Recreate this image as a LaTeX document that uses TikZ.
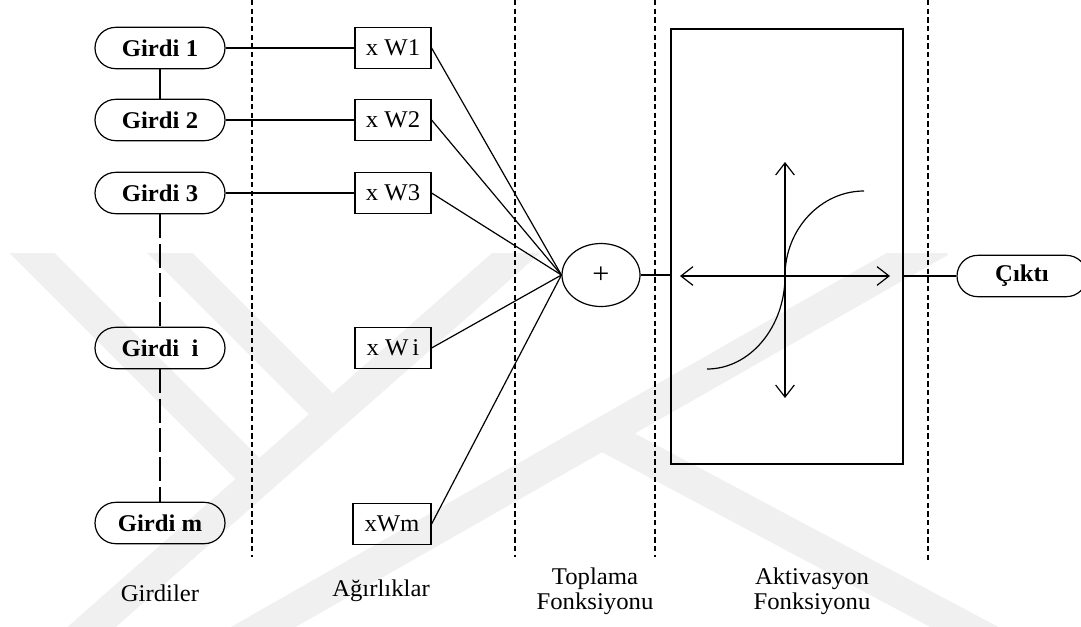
\documentclass[tikz,border=0pt]{standalone}
\usepackage{fontspec}
\setmainfont{Liberation Serif}[FakeStretch=1.03]
\usetikzlibrary{shapes.geometric,arrows.meta}

\tikzset{
  wire/.style={line width=0.9pt},
  pill/.style={draw, line width=0.9pt, rounded corners=15.5pt,
    minimum width=97.5pt, minimum height=31pt, inner sep=0pt,
    font=\fontsize{18}{20}\selectfont\bfseries},
  wbox/.style={draw, line width=0.9pt, minimum width=57pt,
    minimum height=31pt, inner sep=0pt, font=\fontsize{18}{20}\selectfont},
  divider/.style={line width=0.9pt, dash pattern=on 4pt off 2.5pt},
  chain/.style={line width=0.9pt, dash pattern=on 18pt off 4pt},
  caption/.style={align=center, font=\fontsize{18}{18.75}\selectfont},
  axis/.style={line width=0.9pt, {Straight Barb[length=9pt,width=14pt]}-{Straight Barb[length=9pt,width=14pt]}},
  band/.style={line width=24pt, black!6}
}

\begin{document}
\begin{tikzpicture}[x=0.75pt, y=-0.75pt]
\useasboundingbox (0,0) rectangle (1081,626);

% faint background bands
\begin{scope}
  \clip (0,253) rectangle (1081,626);
  \draw[band] (70,646) -- (540,232);
  \draw[band] (11,232) -- (268,489);
  \draw[band] (149,232) -- (332,415);
  \draw[band] (230,646) -- (940,241);
  \draw[band] (600,433) -- (1000,646);
\end{scope}

% column dividers
\draw[divider] (252,0) -- (252,557);
\draw[divider] (515,0) -- (515,557);
\draw[divider] (655,0) -- (655,557);
\draw[divider] (928,0) -- (928,563);

% inputs
\node[pill] (g1) at (160,48)  {Girdi 1};
\node[pill] (g2) at (160,120) {Girdi 2};
\node[pill] (g3) at (160,193) {Girdi 3};
\node[pill] (gi) at (160,348) {Girdi~~i};
\node[pill] (gm) at (160,523) {Girdi m};

% weights
\node[wbox] (w1) at (393,48)  {x W1};
\node[wbox] (w2) at (393,120) {x W2};
\node[wbox] (w3) at (393,193) {x W3};
\node[wbox] (wi) at (393,348) {x W\,i};
\node[wbox, minimum width=58.5pt] (wm) at (392,524) {xWm};

% summation
\node[draw, ellipse, line width=0.9pt, minimum width=58.5pt,
  minimum height=47.25pt, inner sep=0pt, font=\fontsize{22}{24}\selectfont]
  (sum) at (601,275) {+};

% activation
\node[draw, line width=0.9pt, minimum width=174pt, minimum height=326.25pt,
  inner sep=0pt] (act) at (787,246.5) {};

% output
\node[pill] (out) at (1022,276) {Çıktı};

% links between inputs
\draw[wire] (g1.south) -- (g2.north);
\draw[chain] (g3.south) -- (gi.north);
\draw[chain] (gi.south) -- (gm.north);

% inputs to weights
\draw[wire] (g1.east) -- (w1.west);
\draw[wire] (g2.east) -- (w2.west);
\draw[wire] (g3.east) -- (w3.west);

% weights to summation
\foreach \w in {w1,w2,w3,wi,wm}
  \draw[wire] (\w.east) -- (sum.west);

% summation to activation to output
\draw[wire] (sum.east) -- (sum.east -| act.west);
\draw[wire] (out.west -| act.east) -- (out.west);

% activation graph
\coordinate (xl) at (680,276);
\coordinate (xr) at (890,276);
\coordinate (yt) at (785,162);
\coordinate (yb) at (785,398);
\coordinate (c0) at (785,276);
\coordinate (cl) at (707,369);
\coordinate (cu) at (864,191);
\draw[axis] (xl) -- (xr);
\draw[axis] (yb) -- (yt);
\draw[wire] (cl) .. controls (750,369) and (785,327) .. (c0)
               .. controls (785,229) and (821,191) .. (cu);

% column captions
\node[caption] (cap1) at (160,593) {Girdiler};
\node[caption] (cap2) at (381,591) {Ağırlıklar};
\node[caption] (cap3) at (595,591) {Toplama\\Fonksiyonu};
\node[caption] (cap4) at (812,591) {Aktivasyon\\Fonksiyonu};
\end{tikzpicture}
\end{document}
